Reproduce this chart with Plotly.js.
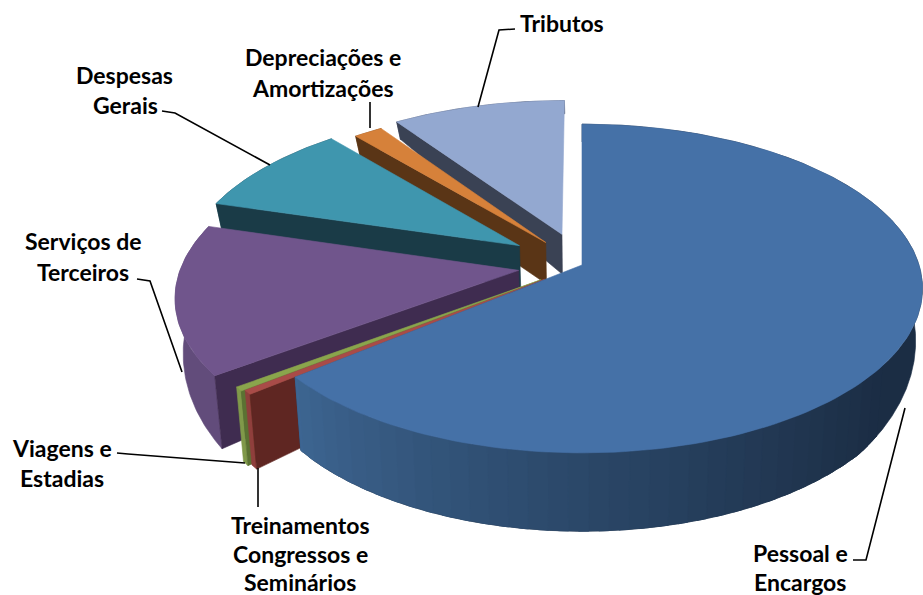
<!DOCTYPE html>
<html><head><meta charset="utf-8">
<script src="https://cdn.plot.ly/plotly-3.0.1.min.js"></script>
<style>html,body{margin:0;padding:0;background:#fff}#c{width:923px;height:595px}</style>
</head><body><div id="c"></div>
<script>
// Chart data (share of total, %), clockwise from 12 o'clock
const categories = ["Pessoal e Encargos","Treinamentos Congressos e Seminários","Viagens e Estadias","Serviços de Terceiros","Despesas Gerais","Depreciações e Amortizações","Tributos"];
const values = [63.9, 0.4, 0.4, 14.6, 9.2, 1.6, 9.6];
const pulls = [0, 0.14, 0.15, 0.19, 0.225, 0.18, 0.205];
const topColors = ["#4571a7","#a94b48","#8aa54c","#70558c","#3f96ae","#d6813a","#93a8d0"];
const cutColors = ["#2c4a70","#5f2622","#5b7232","#3f2c50","#1a3b47","#5a3516","#3a4254"];
const wallColors = ["#1b2d44","#8f3f3c","#80994a","#624c7b","#1f4856","#6b4019","#465068"];
const drawOrder = [6,5,4,3,2,1,0];

// Label lines: [text, x, y]
const labelLines = [
 ["Tributos",562,23],["Depreciações e",323,57],["Amortizações",323,88],
 ["Despesas",124,75],["Gerais",125,105],["Serviços de",83,241],["Terceiros",83,272],
 ["Viagens e",62,448],["Estadias",62,478],["Treinamentos",300,525],["Congressos e",300,554],["Seminários",300,582],
 ["Pessoal e",800,553],["Encargos",800,582]];
const leaders = [
 [[515,499,478],[29,30,107]],[[370,370],[102,128]],[[162,175,270],[111,113,165]],
 [[137,150,182],[279,281,372]],[[117,128,245],[453,454,463]],[[258,258],[468,507]],[[853,866,905],[560,560,408]]];

// Perspective camera of the tilted disc
const CX=582, CY=265, RX=337, RY=161, K=0.143;
function topPt(u,v){const w=1-K*v;return [CX+RX*u/w, CY+RY*v/w];}
function bot(p){
  const y=p[1];
  const d = y<240 ? 0.2*y-7 : y<380 ? 41+(y-240)*0.236 : 74+(y-380)*0.06;
  return [CX+(p[0]-CX)*0.98, y+d];
}
const rad=d=>d*Math.PI/180;
function hex(a){return [1,3,5].map(i=>parseInt(a.substr(i,2),16));}
function mix(a,b,t){const A=hex(a),B=hex(b);return 'rgb('+A.map((c,i)=>Math.round(c+(B[i]-c)*t)).join(',')+')';}

const total=values.reduce((a,b)=>a+b,0);
let acc=0; const slices=values.map((val,i)=>{const a0=acc/total*360;acc+=val;const a1=acc/total*360;return {i,a0,a1};});
const traces=[];
function poly(pts,color){
  traces.push({type:'scatter',mode:'lines',x:pts.map(p=>p[0]).concat(pts[0][0]),y:pts.map(p=>p[1]).concat(pts[0][1]),
    fill:'toself',fillcolor:color,line:{color:color,width:0.6},hoverinfo:'skip',showlegend:false});
}
for(const oi of drawOrder){
  const s=slices[oi],i=s.i,mid=rad((s.a0+s.a1)/2),pu=pulls[i];
  const ox=pu*Math.sin(mid), oy=-pu*Math.cos(mid);
  const at=(deg)=>topPt(ox+Math.sin(rad(deg)),oy-Math.cos(rad(deg)));
  const apex=topPt(ox,oy);
  // outer wall: a solid base, then overlapping shaded bands along the arc
  const base=[],bbase=[];
  for(let d=s.a0;d<=s.a1+0.001;d+=(s.a1-s.a0)/60){const p=at(d);base.push(p);bbase.unshift(bot(p));}
  poly(base.concat(bbase),wallColors[i]);
  if(i===0){
    for(let d=125;d<s.a1;d+=3){
      const e=Math.min(d+4.5,s.a1),p0=at(d),pm=at((d+e)/2),p1=at(e);
      const col=mix(wallColors[0],"#3d6591",Math.pow((d+1.5-125)/(s.a1-125),1.15));
      poly([p0,pm,p1,bot(p1),bot(pm),bot(p0)],col);
    }
  }
  // cut face at the start edge
  if(i!==0){const e=at(s.a0);poly([apex,e,bot(e),bot(apex)],cutColors[i]);}
  // top face
  const pts=[apex];const m=Math.max(2,Math.ceil((s.a1-s.a0)/1.5));
  for(let j=0;j<=m;j++)pts.push(at(s.a0+(s.a1-s.a0)*j/m));
  poly(pts,topColors[i]);
}
leaders.forEach(l=>traces.push({type:'scatter',mode:'lines',x:l[0],y:l[1],line:{color:'#000',width:1.6},hoverinfo:'skip',showlegend:false}));

const layout={width:923,height:595,margin:{l:0,r:0,t:0,b:0},paper_bgcolor:'#fff',plot_bgcolor:'#fff',showlegend:false,
 xaxis:{range:[0,923],visible:false,fixedrange:true},
 yaxis:{range:[595,0],visible:false,fixedrange:true},
 annotations:labelLines.map(l=>({text:'<b>'+l[0]+'</b>',x:l[1],y:l[2],xref:'x',yref:'y',showarrow:false,xanchor:'center',yanchor:'middle',
   font:{family:'Lato, Carlito, sans-serif',size:23,color:'#000'}}))};
Plotly.newPlot('c',traces,layout,{displayModeBar:false,staticPlot:true});
</script></body></html>
